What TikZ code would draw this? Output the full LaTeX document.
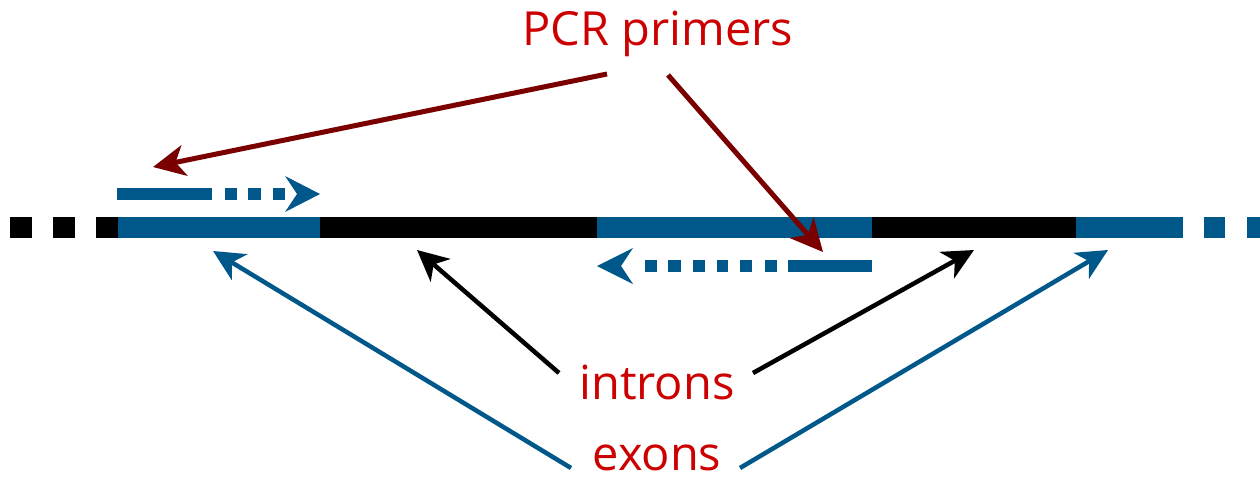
\documentclass[tikz,border=0pt]{standalone}
\usepackage{fontspec}
\setmainfont{Open Sans}
\usetikzlibrary{arrows.meta}
\definecolor{exonblue}{RGB}{0,88,138}
\definecolor{labelred}{RGB}{204,0,0}
\definecolor{primerred}{RGB}{122,0,0}
\tikzset{
  lab/.style={text=labelred, font=\fontsize{47}{56}\selectfont, inner sep=0pt, anchor=base},
  pointer/.style={line width=4.5pt, -{Stealth[length=31pt, width=30pt, inset=9pt]}},
  primerptr/.style={line width=5pt, -{Stealth[length=32pt, width=31pt, inset=9pt]}, primerred},
}
\begin{document}
\begin{tikzpicture}[x=1pt, y=-1pt]
\useasboundingbox (0,0) rectangle (1260,480);

% gene: dashed flank, exons (blue) and introns (black)
\fill[black] (10,217) rectangle (32,238);
\fill[black] (53,217) rectangle (75,238);
\fill[black] (96,217) rectangle (118,238);
\fill[exonblue] (118,217) rectangle (320,238);
\fill[black] (320,217) rectangle (597,238);
\fill[exonblue] (597,217) rectangle (872,238);
\fill[black] (872,217) rectangle (1076,238);
\fill[exonblue] (1076,217) rectangle (1183,238);
\fill[exonblue] (1204,217) rectangle (1225,238);
\fill[exonblue] (1247,217) rectangle (1260,238);

% forward primer
\fill[exonblue] (117,188) rectangle (212,200);
\foreach \a/\b in {225/237, 248/261, 273/285}
  \fill[exonblue] (\a,188) rectangle (\b,200);
\fill[exonblue] (285,176) -- (320,194) -- (285,212) -- (297,194) -- cycle;

% reverse primer
\fill[exonblue] (788,260) rectangle (872,272);
\foreach \a/\b in {765/777, 740/752, 717/728, 693/705, 668/681, 645/657}
  \fill[exonblue] (\a,260) rectangle (\b,272);
\fill[exonblue] (633,248) -- (597,266) -- (633,284) -- (621,266) -- cycle;

% labels
\node[lab] (pcr) at (658,45) {PCR primers};
\node[lab] (introns) at (657,399) {introns};
\node[lab] (exons) at (657,470) {exons};

% pointer ends
\coordinate (pcrL) at (607,74);
\coordinate (pcrR) at (668,75);
\coordinate (fwd) at (153,167);
\coordinate (rev) at (823,252);
\coordinate (inL) at (559,373);
\coordinate (inR) at (753,373);
\coordinate (intron1) at (417,250);
\coordinate (intron2) at (974,250);
\coordinate (exL) at (571,468);
\coordinate (exR) at (740,468);
\coordinate (exon1) at (213,251);
\coordinate (exon3) at (1108,250);

\draw[primerptr] (pcrL) -- (fwd);
\draw[primerptr] (pcrR) -- (rev);
\draw[pointer, black] (inL) -- (intron1);
\draw[pointer, black] (inR) -- (intron2);
\draw[pointer, exonblue] (exL) -- (exon1);
\draw[pointer, exonblue] (exR) -- (exon3);
\end{tikzpicture}
\end{document}
